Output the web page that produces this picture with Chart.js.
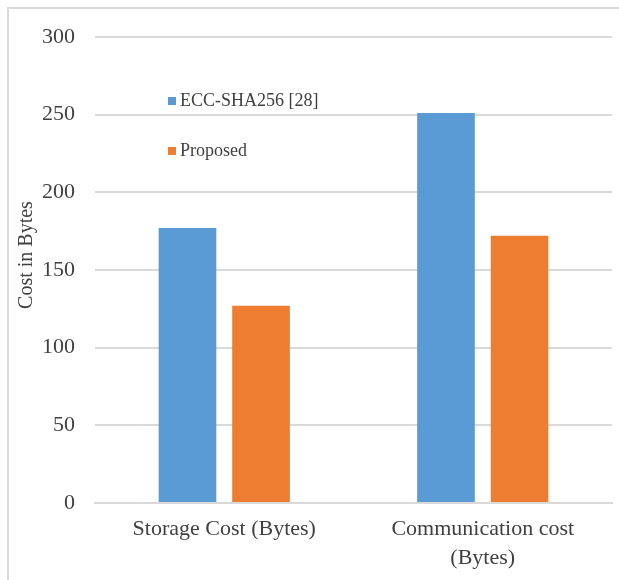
<!DOCTYPE html>
<html>
<head>
<meta charset="utf-8">
<script src="https://cdn.jsdelivr.net/npm/chart.js@4.4.0/dist/chart.umd.min.js"></script>
<style>
html,body{margin:0;padding:0;background:#fff;}
#wrap{position:relative;width:619px;height:580px;}
</style>
</head>
<body>
<div id="wrap"><canvas id="c" width="619" height="580"></canvas></div>
<script>
const categories = ["Storage Cost (Bytes)", ["Communication cost", "(Bytes)"]];
const seriesNames = ["ECC-SHA256 [28]", "Proposed"];
const eccValues = [177, 251];
const proposedValues = [127, 172];
const yTicks = [0, 50, 100, 150, 200, 250, 300];
const yTitle = "Cost in Bytes";
const colors = ["#5B9BD5", "#ED7D31"];

const FONT = "'Liberation Serif', 'Times New Roman', serif";
const TEXT = '#404040';

const frame = {
  id: 'frame',
  beforeDraw(chart) {
    const ctx = chart.ctx;
    ctx.save();
    ctx.fillStyle = '#fff';
    ctx.fillRect(0, 0, chart.width, chart.height);
    ctx.strokeStyle = '#d9d9d9';
    ctx.lineWidth = 2;
    ctx.strokeRect(8, 8, 700, 700);
    ctx.restore();
  }
};

const extras = {
  id: 'extras',
  afterDraw(chart) {
    const ctx = chart.ctx;
    const a = chart.chartArea;
    ctx.save();
    // y-axis title
    ctx.font = "20px " + FONT;
    ctx.fillStyle = TEXT;
    ctx.textAlign = 'center';
    ctx.textBaseline = 'middle';
    ctx.translate(27, a.top + 218);
    ctx.rotate(-Math.PI / 2);
    ctx.fillText(yTitle, 0, 0);
    ctx.restore();
    // legend inside plot area
    chart.data.datasets.forEach((ds, i) => {
      const y = a.top + 64 + i * 50;
      const x = a.left + 73;
      ctx.save();
      ctx.fillStyle = ds.backgroundColor;
      ctx.fillRect(x, y - 4, 8, 8);
      ctx.font = "18px " + FONT;
      ctx.textBaseline = 'middle';
      ctx.fillStyle = TEXT;
      ctx.fillText(ds.label, x + 12, y);
      ctx.restore();
    });
  }
};

new Chart(document.getElementById('c'), {
  type: 'bar',
  data: {
    labels: categories,
    datasets: [
      { label: seriesNames[0], data: eccValues, backgroundColor: colors[0] },
      { label: seriesNames[1], data: proposedValues, backgroundColor: colors[1] }
    ]
  },
  options: {
    responsive: false,
    animation: false,
    devicePixelRatio: 1,
    layout: { padding: { top: 37, right: 7, left: 0, bottom: 0 } },
    datasets: { bar: { categoryPercentage: 0.569, barPercentage: 0.784 } },
    plugins: { legend: { display: false }, tooltip: { enabled: false } },
    scales: {
      x: {
        grid: { display: false },
        border: { display: true, color: '#d9d9d9', width: 2 },
        ticks: { color: TEXT, font: { family: FONT, size: 22, lineHeight: 1.35 }, padding: 3, maxRotation: 0, autoSkip: false },
        afterFit(s) { s.height = 77; }
      },
      y: {
        min: 0, max: 300,
        afterBuildTicks(s) { s.ticks = yTicks.map(v => ({ value: v })); },
        grid: { color: '#d9d9d9', lineWidth: 2, drawTicks: false },
        border: { display: false },
        ticks: { color: TEXT, font: { family: FONT, size: 22 }, padding: 20 },
        afterFit(s) { s.width = 95; }
      }
    }
  },
  plugins: [frame, extras]
});
</script>
</body>
</html>
